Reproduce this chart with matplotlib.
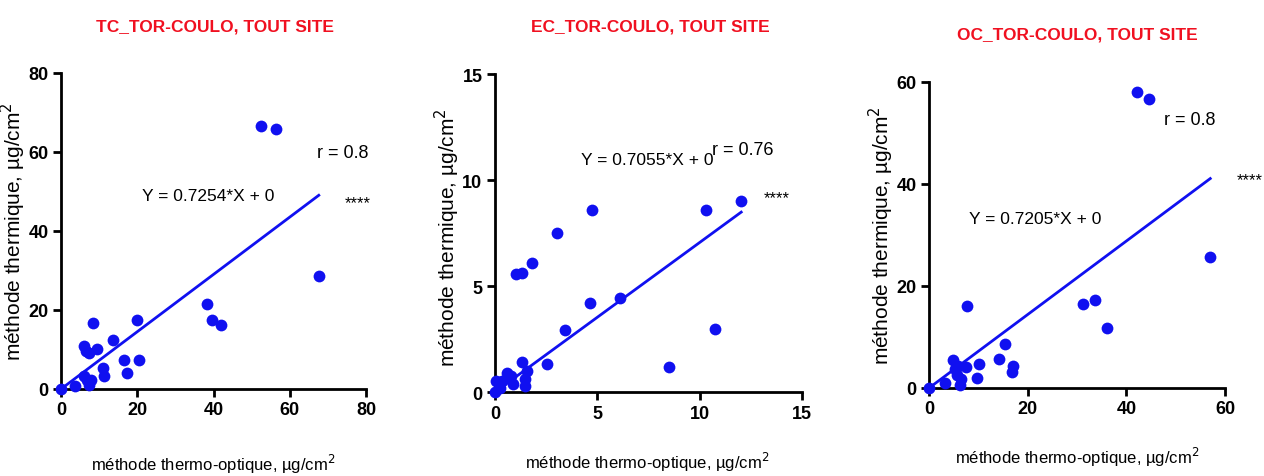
import matplotlib
matplotlib.use("Agg")
from matplotlib import pyplot as plt

plt.rcParams['font.family'] = ['Liberation Sans', 'DejaVu Sans']

# TC panel
tc_x = [0, 3.7, 5.9, 6.6, 7.2, 8.4, 9.4, 5.9, 6.9, 7.8, 7.2, 10.9, 11.3, 13.5, 16.6, 17.2,
        20.0, 20.5, 38.2, 39.7, 42.0, 52.5, 56.5, 67.6]
tc_y = [0, 0.85, 10.9, 9.6, 9.2, 16.8, 10.2, 3.2, 2.4, 2.4, 1.1, 5.3, 3.4, 12.4, 7.3, 4.1,
        17.4, 7.3, 21.5, 17.5, 16.1, 66.7, 65.7, 28.5]
tc_slope = 0.7254

# EC panel
ec_x = [0, 0.05, 0.33, 0.25, 0.6, 0.77, 0.86, 1.03, 1.34, 1.83, 1.34, 1.55, 1.47, 1.47,
        2.56, 3.03, 3.44, 4.63, 4.73, 6.11, 8.5, 10.32, 10.76, 12.03]
ec_y = [0, 0.5, 0.5, 0.2, 0.9, 0.75, 0.36, 5.56, 5.6, 6.07, 1.42, 0.99, 0.6, 0.28,
        1.3, 7.52, 2.94, 4.18, 8.6, 4.43, 1.17, 8.61, 2.99, 9.02]
ec_slope = 0.7055

# OC panel
oc_x = [0, 3.3, 4.9, 5.3, 5.6, 5.9, 6.3, 6.4, 7.5, 7.7, 9.7, 10.1, 14.1, 15.3, 16.8, 17.0,
        31.3, 33.6, 36.0, 42.2, 44.5, 57.0]
oc_y = [0, 1.0, 5.4, 3.8, 2.5, 4.4, 0.5, 1.8, 4.1, 16.0, 2.0, 4.8, 5.75, 8.6, 3.1, 4.4,
        16.5, 17.2, 11.8, 58.0, 56.7, 25.6]
oc_slope = 0.7205

titles = ['TC_TOR-COULO, TOUT SITE', 'EC_TOR-COULO, TOUT SITE', 'OC_TOR-COULO, TOUT SITE']
r_labels = ['r = 0.8', 'r = 0.76', 'r = 0.8']

blue = '#1010f0'

panels = [
    dict(x=tc_x, y=tc_y, slope=tc_slope, lim=80, ticks=[0, 20, 40, 60, 80],
         pos=[0.0483, 0.1824, 0.2413, 0.6625], title_xy=(215, 27),
         eq_xy=(38.6, 48.9), r_xy=(73.9, 59.9), st_xy=(77.7, 47.3),
         xl=(0.498, -0.237), yl=(-0.155, 0.5)),
    dict(x=ec_x, y=ec_y, slope=ec_slope, lim=15, ticks=[0, 5, 10, 15],
         pos=[0.3916, 0.176, 0.2429, 0.6667], title_xy=(650, 27),
         eq_xy=(7.42, 10.98), r_xy=(12.1, 11.45), st_xy=(13.75, 9.16),
         xl=(0.495, -0.217), yl=(-0.155, 0.49)),
    dict(x=oc_x, y=oc_y, slope=oc_slope, lim=60, ticks=[0, 20, 40, 60],
         pos=[0.735, 0.1845, 0.2342, 0.6415], title_xy=(1077, 35),
         eq_xy=(21.5, 33.3), r_xy=(52.9, 52.7), st_xy=(65.1, 40.9),
         xl=(0.5, -0.225), yl=(-0.16, 0.5)),
]

W, H = 1264, 477
fig = plt.figure(figsize=(W / 100, H / 100), dpi=100)

for i, p in enumerate(panels):
    ax = fig.add_axes(p['pos'])
    ax.scatter(p['x'], p['y'], s=72, color=blue, zorder=3, clip_on=False, linewidths=0)
    xmax = max(p['x'])
    ax.plot([0, xmax], [0, p['slope'] * xmax], color=blue, lw=2, zorder=2)
    ax.set_xlim(0, p['lim'])
    ax.set_ylim(0, p['lim'])
    ax.set_xticks(p['ticks'])
    ax.set_yticks(p['ticks'])
    for s in ['top', 'right']:
        ax.spines[s].set_visible(False)
    for s in ['left', 'bottom']:
        ax.spines[s].set_linewidth(2)
    ax.tick_params(direction='out', length=6, width=2, labelsize=13, pad=3)
    for lab in ax.get_xticklabels() + ax.get_yticklabels():
        lab.set_fontweight('bold')
    ax.set_xlabel('méthode thermo-optique, µg/cm$^2$', fontsize=12, va='center')
    ax.set_ylabel('méthode thermique, µg/cm$^2$', fontsize=15, va='center')
    ax.xaxis.set_label_coords(*p['xl'])
    ax.yaxis.set_label_coords(*p['yl'])
    ax.text(*p['eq_xy'], f"Y = {p['slope']:.4f}*X + 0", fontsize=12.5, ha='center', va='center')
    ax.text(*p['r_xy'], r_labels[i], fontsize=13, ha='center', va='center')
    ax.text(*p['st_xy'], '****', fontsize=12, ha='center', va='center', clip_on=False)
    tx, ty = p['title_xy']
    fig.text(tx / W, 1 - ty / H, titles[i], color='#f01020', fontsize=12.5,
             fontweight='bold', ha='center', va='center')

fig.savefig('out.png', dpi=100)
